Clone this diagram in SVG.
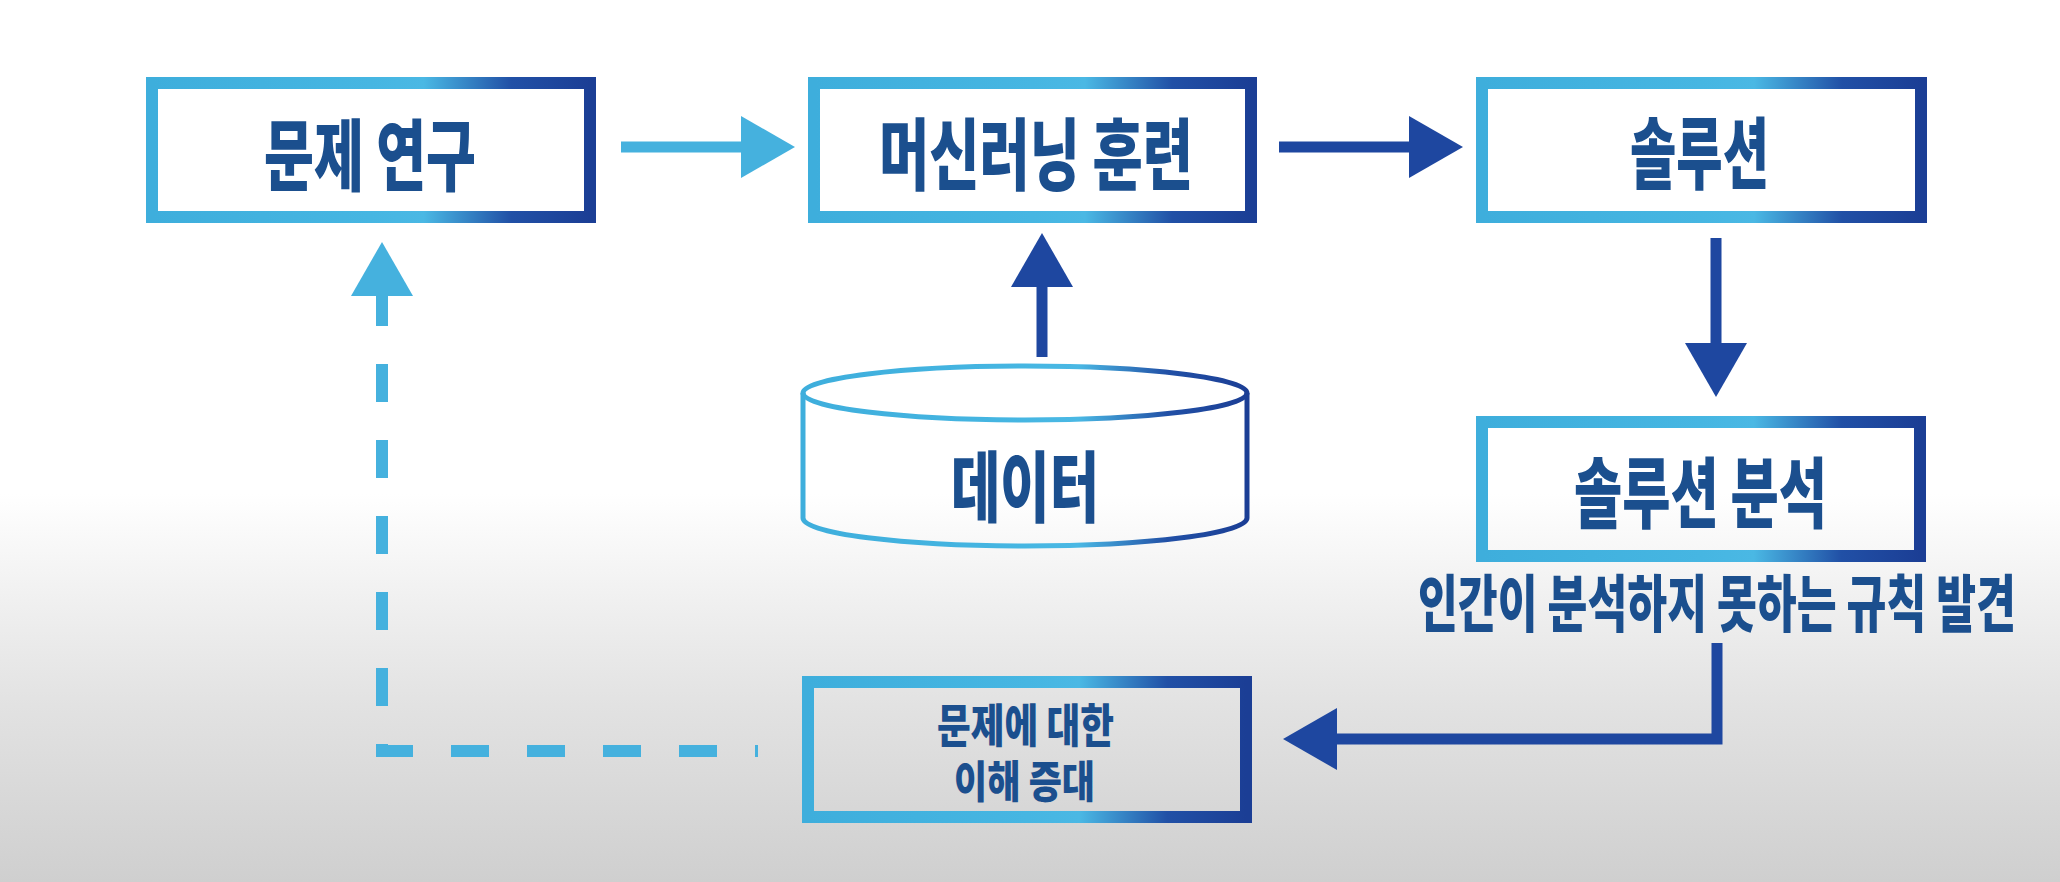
<svg xmlns="http://www.w3.org/2000/svg" width="2060" height="882" viewBox="0 0 2060 882">
<defs>
<linearGradient id="bg" x1="0" y1="0" x2="0" y2="1">
<stop offset="0" stop-color="#ffffff"/>
<stop offset="0.56" stop-color="#ffffff"/>
<stop offset="0.68" stop-color="#f0f0f0"/>
<stop offset="0.8" stop-color="#e2e2e2"/>
<stop offset="1" stop-color="#cfcfcf"/>
</linearGradient>
<linearGradient id="edge" x1="0" y1="0" x2="1" y2="0">
<stop offset="0" stop-color="#3eaedc"/>
<stop offset="0.5" stop-color="#46b6e2"/>
<stop offset="0.62" stop-color="#4ab8e4"/>
<stop offset="0.82" stop-color="#2150a6"/>
<stop offset="1" stop-color="#1b3e95"/>
</linearGradient>
<marker id="headDark" viewBox="0 0 54 62" refX="0" refY="31" markerWidth="54" markerHeight="62" markerUnits="userSpaceOnUse" orient="auto">
<path d="M0,0 L54,31 L0,62 Z" fill="#1e47a0"/>
</marker>
<marker id="headLight" viewBox="0 0 54 62" refX="0" refY="31" markerWidth="54" markerHeight="62" markerUnits="userSpaceOnUse" orient="auto">
<path d="M0,0 L54,31 L0,62 Z" fill="#45b1de"/>
</marker>
</defs>
<style>
.box{fill:none;stroke:url(#edge);stroke-width:12}
.cyl{fill:none;stroke:url(#edge);stroke-width:5}
.t{font-family:"Noto Sans CJK KR","Noto Sans CJK SC",sans-serif;font-weight:900;fill:#1b4f8e;dominant-baseline:central}
.dark{fill:none;stroke:#1e47a0;stroke-width:11;stroke-linejoin:miter}
.light{fill:none;stroke:#45b1de;stroke-width:11}
.dash{fill:none;stroke:#45b1de;stroke-width:12;stroke-dasharray:38 38;stroke-dashoffset:35;stroke-linejoin:miter}
</style>
<rect x="0" y="0" width="2060" height="882" fill="url(#bg)"/>

<g id="connectors">
<path class="light" d="M621,147 H741" marker-end="url(#headLight)"/>
<path class="dark" d="M1279,147 H1409" marker-end="url(#headDark)"/>
<path class="dark" d="M1716,238 V343" marker-end="url(#headDark)"/>
<path class="dark" d="M1042,357 V287" marker-end="url(#headDark)"/>
<path class="dark" d="M1717,643 V739 H1337" marker-end="url(#headDark)"/>
<path class="dash" d="M758,751 H382 V296" marker-end="url(#headLight)"/>
</g>

<g id="node-problem-study">
<rect class="box" x="152" y="83" width="438" height="134"/>
<text class="t" x="264" y="151" font-size="78" textLength="212" lengthAdjust="spacingAndGlyphs">문제 연구</text>
</g>

<g id="node-ml-training">
<rect class="box" x="814" y="83" width="437" height="134"/>
<text class="t" x="879" y="150" font-size="78" textLength="314" lengthAdjust="spacingAndGlyphs">머신러닝 훈련</text>
</g>

<g id="node-solution">
<rect class="box" x="1482" y="83" width="439" height="134"/>
<text class="t" x="1630" y="149" font-size="78" textLength="139" lengthAdjust="spacingAndGlyphs">솔루션</text>
</g>

<g id="node-data">
<path class="cyl" d="M803,393 V518 A222,28 0 0 0 1247,518 V393"/>
<ellipse class="cyl" cx="1025" cy="393" rx="222" ry="27"/>
<text class="t" x="951" y="482" font-size="77" textLength="148" lengthAdjust="spacingAndGlyphs">데이터</text>
</g>

<g id="node-solution-analysis">
<rect class="box" x="1482" y="422" width="438" height="134"/>
<text class="t" x="1574" y="488" font-size="77" textLength="253" lengthAdjust="spacingAndGlyphs">솔루션 분석</text>
<text class="t" transform="scale(0.6,1)" x="2363.3" y="600" font-size="62" textLength="996.7" lengthAdjust="spacingAndGlyphs">인간이 분석하지 못하는 규칙 발견</text>
</g>

<g id="node-understanding">
<rect class="box" x="808" y="682" width="438" height="135"/>
<text class="t"><tspan x="937" y="722" font-size="46" textLength="177" lengthAdjust="spacingAndGlyphs">문제에 대한</tspan><tspan x="954" y="779" font-size="44" textLength="141" lengthAdjust="spacingAndGlyphs">이해 증대</tspan></text>
</g>
</svg>
